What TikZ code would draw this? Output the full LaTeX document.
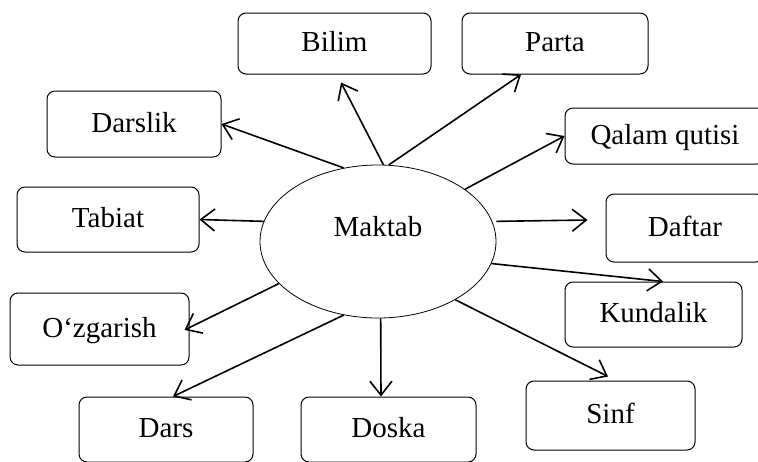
\documentclass[tikz,border=0pt]{standalone}
\usepackage{fontspec}
\setmainfont{Liberation Serif}
\usepackage{tikz}
\usetikzlibrary{arrows.meta,shapes.geometric}

\tikzset{
  box/.style={draw, line width=1pt, rounded corners=8pt, inner sep=0pt,
    text height=19pt, text depth=3pt, font=\fontsize{29}{34}\selectfont},
  link/.style={line width=1.6pt, -{Straight Barb[length=14pt,width=22pt]}}
}

\begin{document}
\begin{tikzpicture}[x=1pt,y=-1pt]
\clip (0,0) rectangle (758,461);

\node[draw, ellipse, line width=0.8pt, inner sep=0pt, minimum width=236pt, minimum height=153pt,
  text height=19pt, text depth=29pt, font=\fontsize{29}{34}\selectfont] (maktab) at (378,241.5) {Maktab};

\node[box, minimum width=193pt, minimum height=61pt] (bilim) at (334.5,43.5) {Bilim};
\node[box, minimum width=186pt, minimum height=61pt] (parta) at (555,43.5) {Parta};
\node[box, minimum width=174pt, minimum height=66pt] (darslik) at (134,124) {Darslik};
\node[box, minimum width=182pt, minimum height=65pt] (tabiat) at (108,219.5) {Tabiat};
\node[box, minimum width=200pt, minimum height=56pt] (qalam) at (665,136) {Qalam qutisi};
\node[box, minimum width=158pt, minimum height=68pt] (daftar) at (685,228) {Daftar};
\node[box, minimum width=177pt, minimum height=65pt] (kundalik) at (653.5,314.5) {Kundalik};
\node[box, minimum width=179pt, minimum height=72pt] (ozgarish) at (99.5,329) {O‘zgarish};
\node[box, minimum width=174pt, minimum height=65pt] (dars) at (166,429.5) {Dars};
\node[box, minimum width=175pt, minimum height=65pt] (doska) at (388.5,429.5) {Doska};
\node[box, minimum width=169pt, minimum height=69pt] (sinf) at (610.5,415.5) {Sinf};

% arrows from the centre
\draw[link] (maktab.86) -- ([xshift=6.5pt,yshift=-8pt]bilim.south);
\draw[link] (maktab.82) -- ([xshift=-34pt]parta.south);
\draw[link] (maktab.115) -- (darslik.east);
\draw[link] (maktab.31) -- (qalam.west);
\draw[link] ([xshift=4pt]maktab.10) -- ([xshift=-18pt,yshift=8pt]daftar.west);
\draw[link] (maktab.170) -- (tabiat.east);
\draw[link] (maktab.-11.5) -- ([xshift=9.5pt]kundalik.north);
\draw[link] (maktab.-37) -- ([xshift=-2.5pt,yshift=4pt]sinf.north);
\draw[link] (maktab.-88) -- ([xshift=-7.5pt]doska.north);
\draw[link] (maktab.-115) -- ([xshift=7pt]dars.north);
\draw[link] (maktab.-157) -- ([xshift=-5pt,yshift=-1pt]ozgarish.east);
\end{tikzpicture}
\end{document}
